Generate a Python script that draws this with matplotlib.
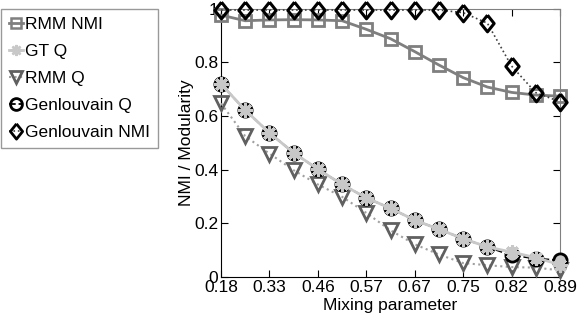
import matplotlib
matplotlib.use("Agg")
import matplotlib.pyplot as plt
from matplotlib.lines import Line2D
import numpy as np

plt.rcParams['font.family'] = ['Liberation Sans', 'DejaVu Sans']

# mixing parameter (15 runs, labels on every second one)
mix_labels = ['0.18', '0.33', '0.46', '0.57', '0.67', '0.75', '0.82', '0.89']
n_points = 15

rmm_nmi = [0.976, 0.955, 0.958, 0.959, 0.958, 0.955, 0.923, 0.888, 0.840,
           0.790, 0.743, 0.708, 0.688, 0.678, 0.674]
gt_q = [0.719, 0.622, 0.537, 0.463, 0.402, 0.345, 0.295, 0.256, 0.212,
        0.178, 0.143, 0.112, 0.093, 0.072, 0.046]
rmm_q = [0.647, 0.525, 0.460, 0.398, 0.345, 0.299, 0.239, 0.174, 0.122,
         0.084, 0.052, 0.044, 0.037, 0.035, 0.025]
gen_q = [0.719, 0.622, 0.537, 0.463, 0.402, 0.345, 0.295, 0.256, 0.212,
         0.178, 0.143, 0.112, 0.081, 0.069, 0.062]
gen_nmi = [0.995, 0.995, 0.995, 0.995, 0.995, 0.995, 0.995, 0.995, 0.995,
           0.995, 0.985, 0.946, 0.786, 0.687, 0.653]

x = np.arange(n_points)

fig = plt.figure(figsize=(5.81, 3.21), dpi=100)
ax = fig.add_axes([0.3804, 0.137, 0.5835, 0.836])

diamond = [(0, 1), (0.8, 0), (0, -1), (-0.8, 0), (0, 1)]
light = '#c8c8c8'

ax.plot(x, rmm_nmi, color='#7f7f7f', lw=2, marker='s', ms=8.5, mfc='none',
        mec='#7f7f7f', mew=2, clip_on=False, zorder=3)
ax.plot(x, rmm_q, color='#a0a0a0', lw=1.5, ls=':', marker='v', ms=10,
        mfc='none', mec='#606060', mew=2, clip_on=False, zorder=3)
ax.plot(x, gen_q, color='k', lw=1.3, ls='--', marker='o', ms=9.5, mfc=light,
        mec='k', mew=2, clip_on=False, zorder=4)
ax.plot(x, gt_q, color=light, lw=2, marker=(8, 2, 0), ms=10.5,
        mec=light, mew=2.2, clip_on=False, zorder=5)
ax.plot(x, gen_nmi, color='#404040', lw=1.2, ls=':', marker=diamond, ms=12,
        mfc='none', mec='k', mew=2.2, clip_on=False, zorder=6)

ax.set_xlim(0, n_points - 1)
ax.set_ylim(0, 1)
ax.set_xticks(x[::2])
ax.set_xticklabels(mix_labels)
ax.set_yticks([0, 0.2, 0.4, 0.6, 0.8, 1])
ax.set_yticklabels(['0', '0.2', '0.4', '0.6', '0.8', '1'])
ax.tick_params(direction='in', length=5, labelsize=12.5, top=True, right=True,
               pad=2)
for s in ['top', 'right']:
    ax.spines[s].set_color('#808080')
ax.set_xlabel('Mixing parameter', fontsize=12.5, labelpad=2)
ax.set_ylabel('NMI / Modularity', fontsize=12.5, labelpad=0)

handles = [
    Line2D([], [], color='#7f7f7f', lw=2, marker='s', ms=7, mfc='none',
           mec='#7f7f7f', mew=1.8),
    Line2D([], [], color=light, lw=2, marker=(8, 2, 0), ms=8, mec=light,
           mew=1.8),
    Line2D([], [], color='#a0a0a0', lw=1.5, ls=':', marker='v', ms=9,
           mfc='none', mec='#606060', mew=2),
    Line2D([], [], color='k', lw=1.3, ls='--', marker='o', ms=8.5,
           mfc='none', mec='k', mew=2),
    Line2D([], [], color='#404040', lw=1.2, ls=':', marker=diamond, ms=11,
           mfc='none', mec='k', mew=2),
]
labels = ['RMM NMI', 'GT Q', 'RMM Q', 'Genlouvain Q', 'Genlouvain NMI']
leg = fig.legend(handles, labels, loc='upper left',
                 bbox_to_anchor=(0.002, 0.972), fontsize=12.5, frameon=True,
                 fancybox=False, edgecolor='#808080', handlelength=0.8,
                 handletextpad=0.12, borderpad=0.45, labelspacing=0.68,
                 borderaxespad=0)
leg.get_frame().set_linewidth(1)

fig.savefig('out.png', dpi=100)
